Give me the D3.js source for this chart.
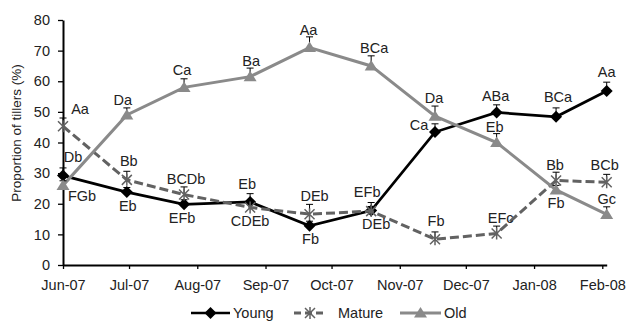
<!DOCTYPE html>
<html>
<head>
<meta charset="utf-8">
<script src="https://cdn.jsdelivr.net/npm/d3@7"></script>
<style>
  body { margin: 0; background: #fff; }
  text { font-family: "Liberation Sans", Arial, sans-serif; }
</style>
</head>
<body>
<div id="visualization"></div>
<script>
// sampling dates and values
let dates = ['2007-06-01', '2007-06-30', '2007-07-26', '2007-08-25', '2007-09-21',
             '2007-10-19', '2007-11-17', '2007-12-15', '2008-01-11', '2008-02-03']

let young = [29.2, 23.8, 19.8, 20.6, 12.8, 17.8, 43.4, 49.8, 48.4, 56.8]
let youngErr = [2.5, 1.5, 1.5, 2.7, 1.5, 2.6, 2.7, 2.5, 2.9, 2.9]
let youngLetters = ['Db', 'Eb', 'EFb', 'Eb', 'Fb', 'EFb', 'Ca', 'ABa', 'BCa', 'Aa']

let mature = [45.3, 27.8, 23.0, 18.8, 16.6, 17.6, 8.4, 10.3, 27.6, 27.0]
let matureErr = [2.7, 2.8, 2.5, 1.5, 3.2, 1.5, 2.4, 2.4, 2.7, 2.6]
let matureLetters = ['Aa', 'Bb', 'BCDb', 'CDEb', 'DEb', 'DEb', 'Fb', 'EFc', 'Bb', 'BCb']

let old = [26.0, 49.0, 58.0, 61.5, 71.0, 65.0, 48.6, 40.0, 24.5, 16.5]
let oldErr = [1.5, 2.3, 2.8, 2.8, 3.5, 3.3, 3.3, 2.9, 1.5, 2.5]
let oldLetters = ['FGb', 'Da', 'Ca', 'Ba', 'Aa', 'BCa', 'Da', 'Eb', 'Fb', 'Gc']

let monthTicks = ['2007-06-01', '2007-07-01', '2007-08-01', '2007-09-01', '2007-10-01',
                  '2007-11-01', '2007-12-01', '2008-01-01', '2008-02-01']
let yTicks = [0, 10, 20, 30, 40, 50, 60, 70, 80]
let seriesNames = ['Young', 'Mature', 'Old']

// where each letter label sits relative to its point
let youngLabelPos = [[10, -19], [1, 14], [-2, 14], [-3, -18], [1, 13], [-4, -19], [-16, -7], [-1, -17], [2, -20], [0, -19]]
let matureLabelPos = [[17, -17], [2, -19], [2, -16], [0, 13], [5, -18], [5, 13], [1, -18], [4, -16], [-1, -16], [-2, -17]]
let oldLabelPos = [[19, 11], [-4, -15], [-2, -17], [1, -16], [-1, -18], [3, -18], [-1, -18], [-2, -16], [0, 13], [0, -16]]

let parse = d3.timeParse('%Y-%m-%d')

let svg = d3.select('#visualization')
  .append('svg')
    .attr('width', 628)
    .attr('height', 323)

let x = d3.scaleTime()
  .domain([parse('2007-06-01'), parse('2008-02-03')])
  .range([63, 606.7])

let y = d3.scaleLinear()
  .domain([0, 80])
  .range([265, 20])

let xAxis = svg.append('g')
  .attr('transform', 'translate(0,' + y(0) + ')')
  .call(d3.axisBottom(x)
    .tickValues(monthTicks.map(parse))
    .tickFormat(d3.timeFormat('%b-%y'))
    .tickSize(4)
    .tickSizeOuter(0)
    .tickPadding(11))

let yAxis = svg.append('g')
  .attr('transform', 'translate(' + x(parse('2007-06-01')) + ',0)')
  .call(d3.axisLeft(y)
    .tickValues(yTicks)
    .tickSize(5)
    .tickSizeOuter(0)
    .tickPadding(8))

svg.selectAll('.domain').attr('stroke', '#000').attr('stroke-width', 2)
svg.selectAll('.tick line').attr('stroke', '#000').attr('stroke-width', 1.3)
svg.selectAll('.tick text')
  .attr('fill', '#222')
  .style('font-size', '14.5px')
  .style('font-family', '"Liberation Sans", Arial, sans-serif')

svg.append('text')
  .attr('transform', 'translate(21,133) rotate(-90)')
  .attr('text-anchor', 'middle')
  .attr('fill', '#222')
  .style('font-size', '13.5px')
  .text('Proportion of tillers (%)')

let markerPath = {
  diamond: 'M0,-6L6,0L0,6L-6,0Z',
  star: 'M0,-6V6M-5,-5L5,5M-5,5L5,-5',
  triangle: 'M0,-6L6.5,4.5L-6.5,4.5Z'
}

let drawMarker = (g, kind, color) => {
  let p = g.append('path').attr('d', markerPath[kind])
  if (kind === 'star') {
    p.attr('fill', 'none').attr('stroke', color).attr('stroke-width', 1.5)
  } else {
    p.attr('fill', color)
  }
}

let drawSeries = (values, errs, letters, labelPos, color, width, dash, kind) => {
  let points = values.map((v, i) => ({ date: parse(dates[i]), v: v, e: errs[i], t: letters[i], p: labelPos[i] }))
  let g = svg.append('g')

  let line = d3.line()
    .x(d => x(d.date))
    .y(d => y(d.v))

  g.append('path')
    .datum(points)
    .attr('d', line)
    .attr('fill', 'none')
    .attr('stroke', color)
    .attr('stroke-width', width)
    .attr('stroke-dasharray', dash)

  let bars = g.selectAll('.err')
    .data(points)
    .enter()
    .append('g')

  bars.append('line')
    .attr('x1', d => x(d.date))
    .attr('x2', d => x(d.date))
    .attr('y1', d => y(d.v))
    .attr('y2', d => y(d.v + d.e))
    .attr('stroke', '#000')
    .attr('stroke-width', 1)

  bars.append('line')
    .attr('x1', d => x(d.date) - 3.5)
    .attr('x2', d => x(d.date) + 3.5)
    .attr('y1', d => y(d.v + d.e))
    .attr('y2', d => y(d.v + d.e))
    .attr('stroke', '#000')
    .attr('stroke-width', 1)

  g.selectAll('.mk')
    .data(points)
    .enter()
    .append('g')
      .attr('transform', d => 'translate(' + x(d.date) + ',' + y(d.v) + ')')
      .each(function() { drawMarker(d3.select(this), kind, color) })

  g.selectAll('.lbl')
    .data(points)
    .enter()
    .append('text')
      .attr('x', d => x(d.date) + d.p[0])
      .attr('y', d => y(d.v) + d.p[1])
      .attr('dy', '0.35em')
      .attr('text-anchor', 'middle')
      .attr('fill', '#222')
      .style('font-size', '14.5px')
      .text(d => d.t)
}

let colors = ['#000000', '#626262', '#8a8a8a']
let widths = [2.7, 3, 3]
let dashes = [null, '9,4', null]
let kinds = ['diamond', 'star', 'triangle']

drawSeries(young, youngErr, youngLetters, youngLabelPos, colors[0], widths[0], dashes[0], kinds[0])
drawSeries(mature, matureErr, matureLetters, matureLabelPos, colors[1], widths[1], dashes[1], kinds[1])
drawSeries(old, oldErr, oldLetters, oldLabelPos, colors[2], widths[2], dashes[2], kinds[2])

// legend
let legendX = [191, 294, 400]
let legendW = [39, 32, 41]
let legend = svg.selectAll('.legend')
  .data(seriesNames)
  .enter()
  .append('g')
    .attr('transform', (d, i) => 'translate(' + legendX[i] + ',313)')

legend.append('line')
  .attr('x1', 0)
  .attr('x2', (d, i) => legendW[i])
  .attr('stroke', (d, i) => colors[i])
  .attr('stroke-width', (d, i) => widths[i])
  .attr('stroke-dasharray', (d, i) => dashes[i] ? '7,4' : null)

legend.append('g')
  .attr('transform', (d, i) => 'translate(' + legendW[i] / 2 + ',0)')
  .each(function(d, i) { drawMarker(d3.select(this), kinds[i], colors[i]) })

legend.append('text')
  .attr('x', (d, i) => legendW[i] + (i === 1 ? 12 : 3))
  .attr('dy', '0.35em')
  .attr('fill', '#222')
  .style('font-size', '14.5px')
  .text(d => d)
</script>
</body>
</html>
